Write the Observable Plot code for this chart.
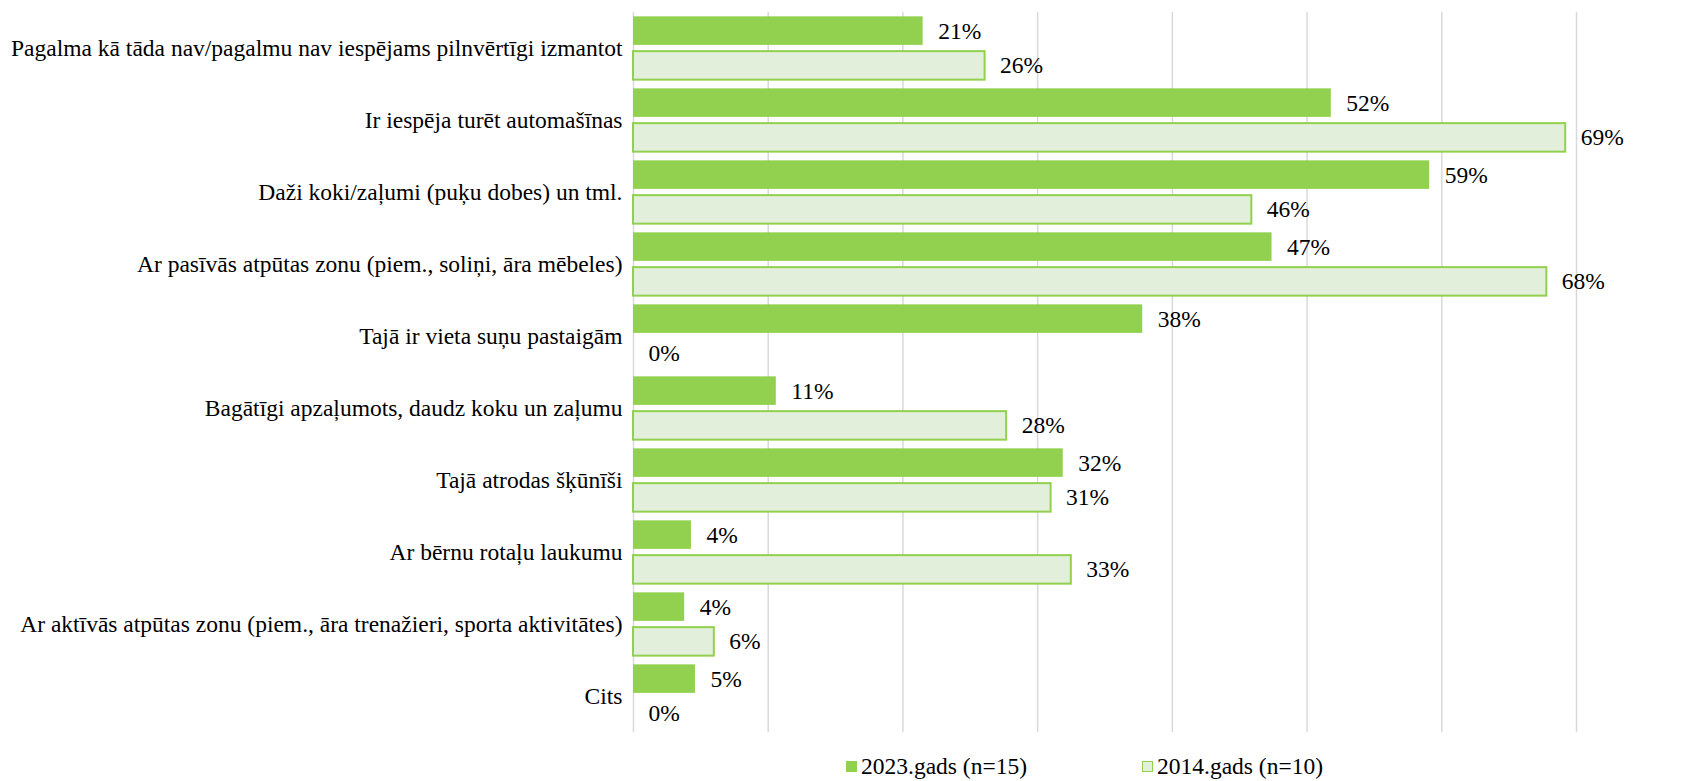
<!DOCTYPE html>
<html>
<head>
<meta charset="utf-8">
<script src="https://cdn.jsdelivr.net/npm/d3@7"></script>
<script src="https://cdn.jsdelivr.net/npm/@observablehq/plot@0.6"></script>
<style>
  html, body { margin: 0; padding: 0; background: #fff; }
  #chart svg { display: block; }
  #legend { position: relative; height: 36px; font-size: 23.5px; color: #000; }
  .item { position: absolute; top: 3px; height: 36px; display: flex; align-items: center; }
  .sw { width: 11px; height: 11px; margin-right: 4px; box-sizing: border-box; }
</style>
</head>
<body>
<div id="chart"></div>
<div id="legend"></div>
<script>
const FONT = "'Liberation Serif', serif";
function setFont(el) { el.style.setProperty("font-family", FONT, "important"); }
setFont(document.body);

const categories = [
  "Pagalma kā tāda nav/pagalmu nav iespējams pilnvērtīgi izmantot",
  "Ir iespēja turēt automašīnas",
  "Daži koki/zaļumi (puķu dobes) un tml.",
  "Ar pasīvās atpūtas zonu (piem., soliņi, āra mēbeles)",
  "Tajā ir vieta suņu pastaigām",
  "Bagātīgi apzaļumots, daudz koku un zaļumu",
  "Tajā atrodas šķūnīši",
  "Ar bērnu rotaļu laukumu",
  "Ar aktīvās atpūtas zonu (piem., āra trenažieri, sporta aktivitātes)",
  "Cits"
];
const series = ["2023.gads (n=15)", "2014.gads (n=10)"];
// bar lengths (percent)
const values2023 = [21.5, 51.8, 59.1, 47.4, 37.8, 10.6, 31.9, 4.3, 3.8, 4.6];
const values2014 = [26.1, 69.2, 45.9, 67.8, 0, 27.7, 31.0, 32.5, 6.0, 0];
// printed data labels
const labels2023 = ["21%", "52%", "59%", "47%", "38%", "11%", "32%", "4%", "4%", "5%"];
const labels2014 = ["26%", "69%", "46%", "68%", "0%", "28%", "31%", "33%", "6%", "0%"];
const gridTicks = [0, 10, 20, 30, 40, 50, 60, 70];
const colors2023 = {fill: "#92D050"};
const colors2014 = {fill: "#E2EFDA", stroke: "#92D050"};

const data = categories.flatMap((c, i) => [
  {cat: c, series: series[0], value: values2023[i], label: labels2023[i]},
  {cat: c, series: series[1], value: values2014[i], label: labels2014[i]}
]);

const chart = Plot.plot({
  width: 1695,
  height: 745,
  marginLeft: 633,
  marginRight: 119,
  marginTop: 12,
  marginBottom: 13,
  style: {fontSize: "23.5px", color: "#000", background: "#fff"},
  facet: {data, y: "cat"},
  fy: {domain: categories, padding: 0, round: false, label: null, axis: "left", tickSize: 0, tickPadding: 11},
  y: {domain: series, paddingInner: 0.18, paddingOuter: 0.125, round: false, axis: null},
  x: {domain: [0, 70], axis: null},
  marks: [
    Plot.ruleX(gridTicks, {x: d => d, stroke: "#D9D9D9", strokeWidth: 1.5}),
    Plot.barX(data, {filter: d => d.series === series[0], x: "value", y: "series", fill: colors2023.fill}),
    Plot.barX(data, {filter: d => d.series === series[1], x: "value", y: "series", fill: colors2014.fill, stroke: colors2014.stroke, strokeWidth: 2}),
    Plot.text(data, {x: "value", y: "series", text: "label", dx: 15, textAnchor: "start", fill: "#000", fontSize: 23.5})
  ]
});
chart.setAttribute("font-family", "Liberation Serif");
setFont(chart);
chart.querySelectorAll("g, text, tspan").forEach(el => { el.setAttribute("font-family", "Liberation Serif"); setFont(el); });
document.getElementById("chart").appendChild(chart);

const legend = document.getElementById("legend");
setFont(legend);
const items = [
  {label: series[0], left: 846, fill: colors2023.fill, stroke: colors2023.fill},
  {label: series[1], left: 1142, fill: colors2014.fill, stroke: colors2014.stroke}
];
for (const it of items) {
  const div = document.createElement("div");
  div.className = "item";
  div.style.left = it.left + "px";
  const sw = document.createElement("span");
  sw.className = "sw";
  sw.style.background = it.fill;
  sw.style.border = "1.5px solid " + it.stroke;
  div.appendChild(sw);
  const t = document.createElement("span");
  t.textContent = it.label;
  setFont(t);
  div.appendChild(t);
  legend.appendChild(div);
}
</script>
</body>
</html>
